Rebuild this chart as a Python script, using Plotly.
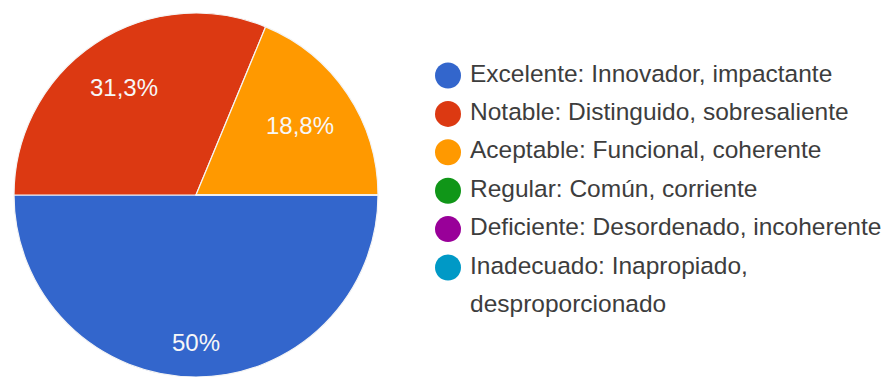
import textwrap
from decimal import Decimal, ROUND_HALF_UP
import math

import plotly.graph_objects as go

# Survey categories and response counts
categories = [
    "Excelente: Innovador, impactante",
    "Notable: Distinguido, sobresaliente",
    "Aceptable: Funcional, coherente",
    "Regular: Común, corriente",
    "Deficiente: Desordenado, incoherente",
    "Inadecuado: Inapropiado, desproporcionado",
]
counts = [8, 5, 3, 0, 0, 0]

# Google-style palette
colors = ["#3366cc", "#dc3912", "#ff9900", "#109618", "#990099", "#0099c6"]

# Radial position of each slice label (fraction of the radius)
label_radius = [0.81, 0.71, 0.69, 0.7, 0.7, 0.7]

W, H = 891, 377
TOP = 13                      # top margin in px
PLOT_H = H - TOP
R = PLOT_H / 2                # pie radius in px
CX, CY = 196, TOP + R         # pie centre in px (from top-left)
START_DEG = 90                # first slice starts at 3 o'clock

FONT = "Arial, 'Liberation Sans', sans-serif"
TEXT_COLOR = "#3d3d3d"


def fmt_pct(v, total):
    p = Decimal(v) * 100 / Decimal(total)
    p = p.quantize(Decimal("0.1"), rounding=ROUND_HALF_UP)
    s = format(p.normalize(), "f")
    return s.replace(".", ",") + "%"


fig = go.Figure()

fig.add_trace(go.Pie(
    labels=categories,
    values=counts,
    sort=False,
    direction="clockwise",
    rotation=START_DEG,
    marker=dict(colors=colors, line=dict(color="#f4f4f4", width=1.2)),
    textinfo="none",
    hoverinfo="label+percent",
    showlegend=False,
    domain=dict(x=[(CX - R) / W, (CX + R) / W], y=[0, 1]),
))

# Slice labels placed along each slice's bisector
total = sum(counts)
annotations = []
angle = START_DEG
for name, v, f in zip(categories, counts, label_radius):
    if v == 0:
        continue
    span = 360 * v / total
    mid = math.radians(angle + span / 2)
    annotations.append(dict(
        x=CX + f * R * math.sin(mid),
        y=CY - f * R * math.cos(mid),
        xref="x", yref="y",
        text=fmt_pct(v, total),
        showarrow=False,
        font=dict(family=FONT, size=24, color="#f7f7f7"),
        xanchor="center", yanchor="middle",
    ))
    angle += span

# Legend drawn as circle markers plus wrapped labels
ROW0, ROW_STEP = 75.5, 38.4
MARK_X, TEXT_X = 448, 470
mark_y, text_y, text_lines = [], [], []
row = 0
for name in categories:
    mark_y.append(ROW0 + ROW_STEP * row)
    for line in textwrap.wrap(name, 36):
        text_y.append(ROW0 + ROW_STEP * row)
        text_lines.append(line)
        row += 1

fig.add_trace(go.Scatter(
    x=[MARK_X] * len(mark_y), y=mark_y,
    mode="markers",
    marker=dict(size=26, color=colors, line=dict(width=0)),
    hoverinfo="skip", showlegend=False,
))
fig.add_trace(go.Scatter(
    x=[TEXT_X] * len(text_y), y=text_y,
    mode="text", text=text_lines,
    textposition="middle right",
    textfont=dict(family=FONT, size=24.5, color=TEXT_COLOR),
    hoverinfo="skip", showlegend=False,
))

fig.update_layout(
    width=W, height=H,
    margin=dict(l=0, r=0, t=TOP, b=0),
    paper_bgcolor="white",
    plot_bgcolor="rgba(0,0,0,0)",
    annotations=annotations,
    xaxis=dict(range=[0, W], visible=False, fixedrange=True),
    yaxis=dict(range=[H, TOP], visible=False, fixedrange=True),
    font=dict(family=FONT),
)

fig.write_html("out.html")
